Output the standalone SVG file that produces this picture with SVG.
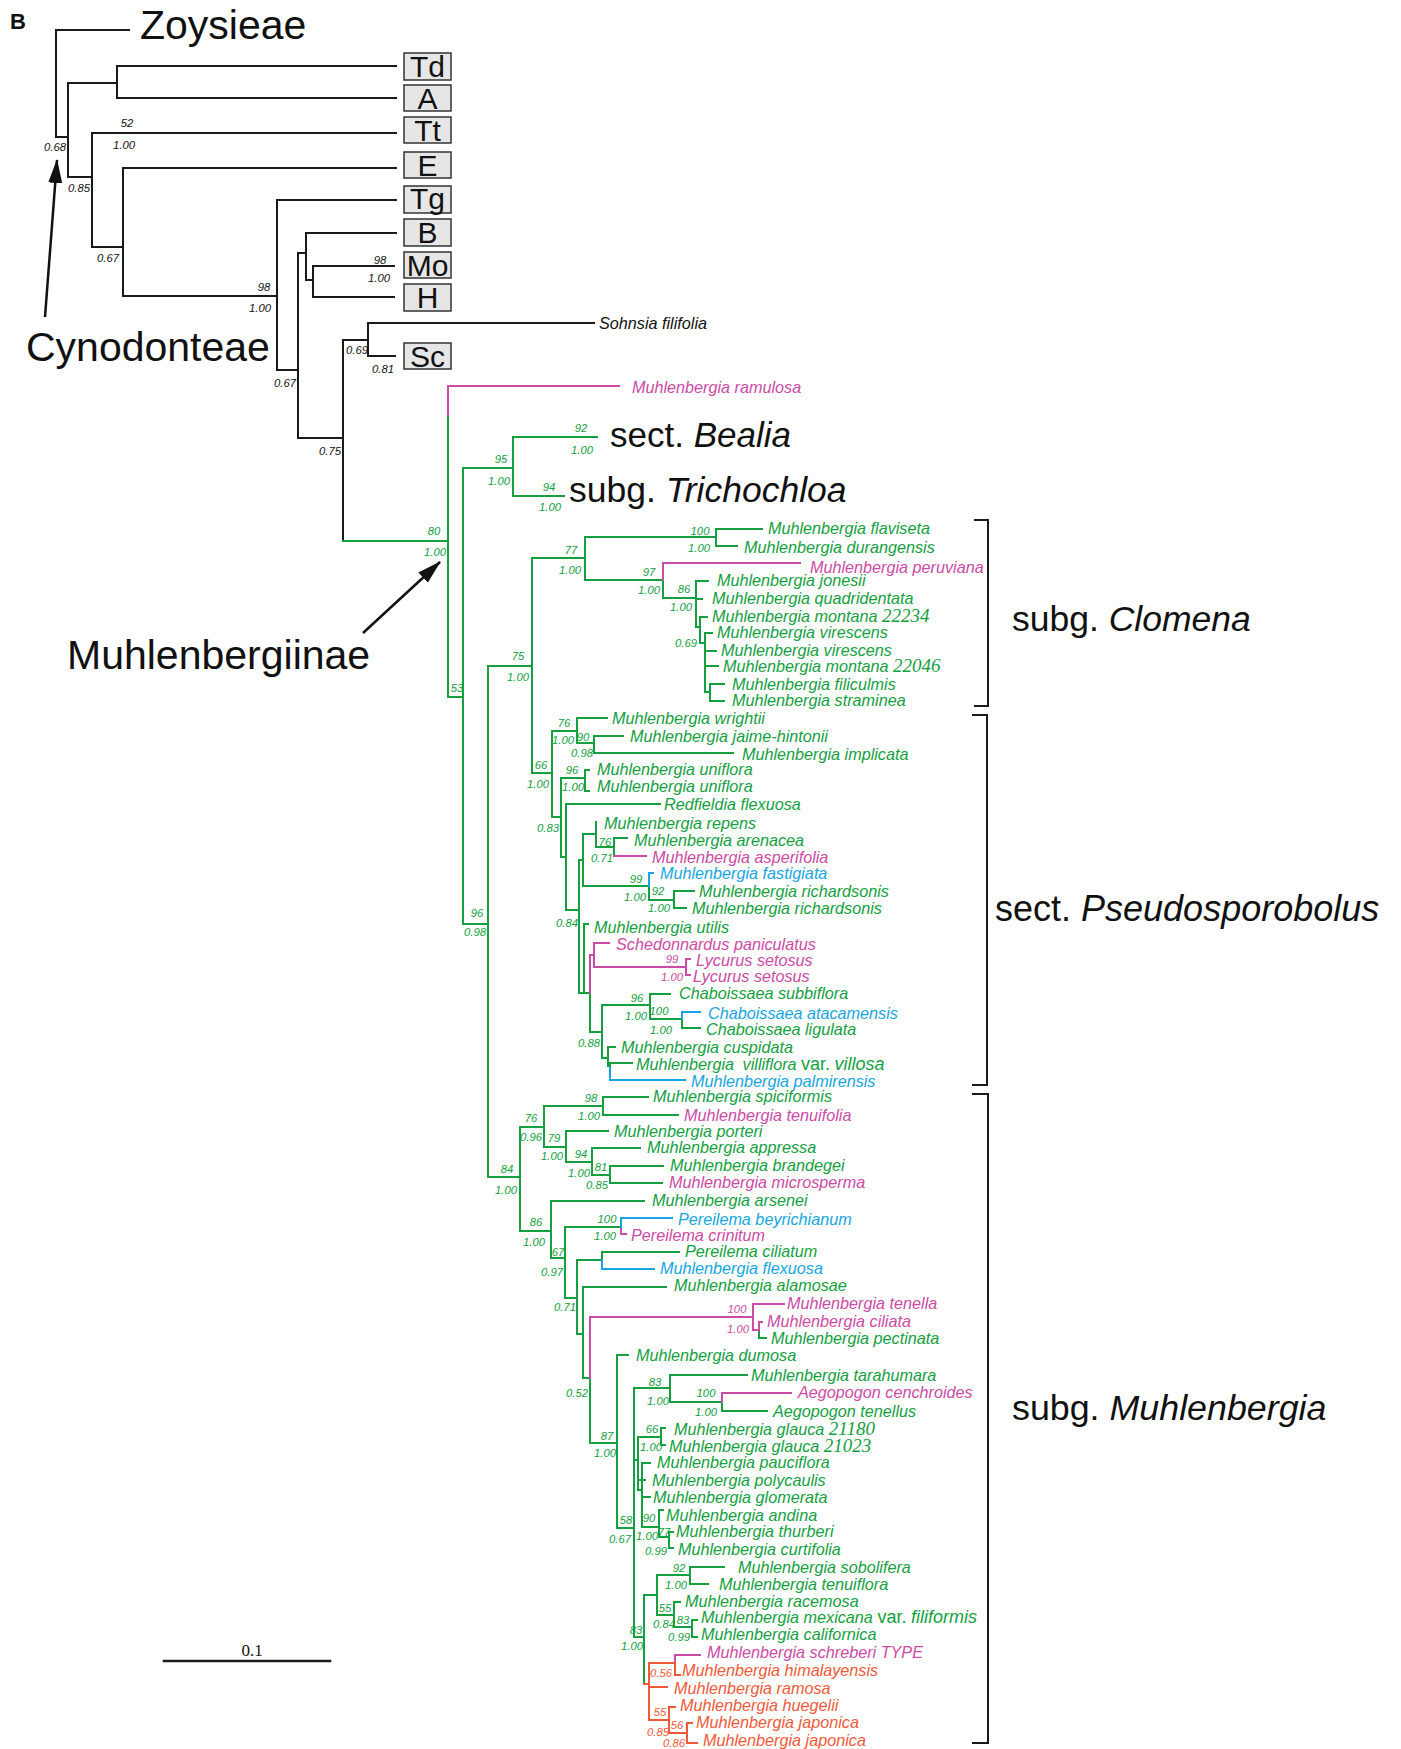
<svg xmlns="http://www.w3.org/2000/svg" width="1401" height="1749" viewBox="0 0 1401 1749">
<defs>
<style>
.sp{font-family:"Liberation Sans",Arial,sans-serif;font-style:italic;font-size:16.2px}
.n{font-family:"Liberation Sans",Arial,sans-serif;font-style:italic;font-size:11.3px;text-anchor:middle}
.big{font-family:"Liberation Sans",Arial,sans-serif;fill:#111}
.ser{font-family:"Liberation Serif","Times New Roman",serif;font-style:italic;font-size:19px}
.rg{font-style:normal}
.vr{font-size:18px}
.it{font-style:italic}
.g{fill:#14a03f}.p{fill:#cc4ba6}.b{fill:#17a6e2}.o{fill:#f05a3a}.k{fill:#111}
.ln path{fill:none;stroke-width:2;stroke-linecap:square}
.lk{stroke:#1a1a1a}.lg{stroke:#14a03f}.lp{stroke:#cc4ba6}.lb{stroke:#17a6e2}.lo{stroke:#f05a3a}
.box rect{fill:#e6e6e6;stroke:#333;stroke-width:1.5}
.box text{font-family:"Liberation Sans",Arial,sans-serif;font-size:30px;text-anchor:middle;fill:#111}
</style>
<marker id="ah" markerUnits="userSpaceOnUse" markerWidth="26" markerHeight="16" refX="23" refY="7" orient="auto"><path d="M0,0 L24,7 L0,14 z" fill="#111"/></marker>
</defs>
<rect width="1401" height="1749" fill="#fff"/>

<g id="connectors" class="ln">
<path class="lk" d="M129,30H56V137H68 M68,83V177 M68,83H117 M117,66V98 M117,66H396 M117,98H396 M68,177H92 M92,133V247 M92,133H396 M92,247H123 M123,168V296 M123,168H396 M123,296H277 M277,200V370 M277,200H396 M277,370H298 M298,253V438 M298,253H306 M306,233V280 M306,233H396 M306,280H313 M313,266V297 M313,266H394 M313,297H394 M298,438H343 M343,340V541 M343,340H368 M368,323V356 M368,323H594 M368,356H395"/>
<path class="lg" d="M343,541H448 M448,415V697 M448,697H463 M463,468V924 M463,468H513 M513,437V496 M513,437H597 M513,496H564 M463,924H488 M488,666V1177 M488,666H532 M532,558V773 M532,558H585 M585,537V580 M585,537H716 M716,529V546 M716,529H762 M716,546H737 M585,580H663 M663,580V598 M663,598H696 M696,581V627 M696,581H708 M696,599H702 M696,627H700 M700,617V643 M700,617H707 M700,643H705 M705,633V692 M705,633H712 M705,651H716 M705,666H718 M705,692H710 M710,684V701 M710,684H724 M710,701H724"/>
<path class="lg" d="M532,773H552 M552,731V817 M552,731H577 M577,718V743 M577,718H607 M577,743H594 M594,736V753 M594,736H623 M594,753H733 M552,817H561 M561,778V857 M561,778H585 M585,770V791 M585,770H589 M585,791H589 M561,857H566 M566,804V910 M566,804H660 M566,910H579 M579,860V993 M579,860H583 M583,834V886 M583,834H596 M596,822V847 M596,847H614 M614,838V856 M614,838H627 M583,886H649 M649,886V900 M649,900H674 M674,891V908 M674,891H694 M674,908H686 M579,993H590 M584,924V993 M584,924H588 M590,993V1032 M590,1032H602 M602,1005V1058 M602,1005H650 M650,994V1019 M650,994H670 M650,1019H682 M682,1019V1028 M682,1028H700 M602,1058H608 M608,1047V1066H610 M608,1047H615 M610,1063V1068 M610,1063H632"/>
<path class="lp" d="M448,386V415 M448,386H619 M663,563V580 M663,563H800 M614,856H646 M590,955V993 M590,955H594 M594,943V967 M594,943H609 M594,967H686 M686,959V975 M686,959H690 M686,975H690"/>
<path class="lb" d="M649,873V886 M649,873H653 M682,1012V1019 M682,1012H700 M610,1068V1080H685"/>
<path class="lg" d="M488,1177H520 M520,1127V1231 M520,1127H544 M544,1106V1147 M544,1106H603 M603,1097V1115 M603,1097H648 M603,1115H678 M544,1147H566 M566,1131V1162 M566,1131H608 M566,1162H592 M592,1148V1175 M592,1148H640 M592,1175H610 M610,1166V1183 M610,1166H663 M610,1183H662 M520,1231H551 M551,1201V1258 M551,1201H644 M551,1258H565 M565,1227V1298 M565,1227H621 M565,1298H577 M577,1260V1334 M577,1260H602 M602,1252V1260 M602,1252H679 M577,1334H583 M583,1287V1378 M583,1287H666 M583,1378H590 M590,1378V1443 M590,1443H617 M617,1355V1528 M617,1355H628 M617,1528H634 M634,1388H670 M670,1375V1402 M670,1375H747 M670,1402H722 M722,1402V1411 M722,1411H767 M634,1388V1637 M634,1460H638 M638,1437V1490 M638,1437H661 M661,1428V1445 M661,1428H665 M661,1445H665 M638,1480H645 M638,1490H642 M642,1463V1527 M642,1463H650 M642,1497H650 M642,1527H659 M659,1510V1537 M659,1510H663 M659,1537H669 M669,1532V1548 M669,1532H673 M669,1548H673 M634,1637H644 M644,1595V1684 M644,1595H657 M657,1575V1615 M657,1575H690 M690,1567V1584 M690,1567H724 M690,1584H708 M657,1615H674 M674,1602V1627 M674,1602H680 M674,1627H692 M692,1620V1637 M692,1620H697 M692,1637H697 M759,1330V1338 M759,1338H766"/>
<path class="lp" d="M621,1227V1234 M621,1234H626 M590,1317V1378 M590,1317H753 M753,1304V1330 M753,1304H784 M753,1330H759 M759,1322V1330 M759,1322H762 M722,1393V1402 M722,1393H791 M675,1655V1663 M675,1655H700"/>
<path class="lb" d="M621,1218V1227 M621,1218H672 M602,1260V1269H654"/>
<path class="lo" d="M644,1684H649 M649,1663V1720 M649,1663H675 M675,1663V1675H680 M649,1687H667 M649,1720H669 M669,1707V1733 M669,1707H675 M669,1733H687 M687,1723V1743 M687,1723H692 M687,1743H697"/>
<path class="lk" d="M975,520H988V706H975 M973,715H987V1085H973 M973,1094H988V1743H973"/>
<path class="lk" style="stroke-width:2.5" d="M164,1661H330"/>
<line x1="45" y1="317" x2="57" y2="160" stroke="#111" stroke-width="2.5" marker-end="url(#ah)"/>
<line x1="363" y1="633" x2="440" y2="562" stroke="#111" stroke-width="2.5" marker-end="url(#ah)"/>
</g>

<g id="titles" class="big">
<text x="10" y="29" font-size="22" font-weight="bold">B</text>
<text x="140" y="39" font-size="41">Zoysieae</text>
<text x="26" y="361" font-size="41">Cynodonteae</text>
<text x="67" y="669" font-size="41">Muhlenbergiinae</text>
<text x="610" y="447" font-size="35">sect. <tspan class="it">Bealia</tspan></text>
<text x="569" y="502" font-size="35.5">subg. <tspan class="it">Trichochloa</tspan></text>
<text x="1012" y="631" font-size="35.5">subg. <tspan class="it">Clomena</tspan></text>
<text x="995" y="921" font-size="36">sect. <tspan class="it">Pseudosporobolus</tspan></text>
<text x="1012" y="1420" font-size="35.8">subg. <tspan class="it">Muhlenbergia</tspan></text>
<text x="252" y="1656" font-size="17" text-anchor="middle" font-family="Liberation Serif,serif">0.1</text>
</g>

<g id="box-Td" class="box"><rect x="404" y="53" width="47" height="27"/><text x="427.5" y="77">Td</text></g>
<g id="box-A" class="box"><rect x="404" y="85" width="47" height="26"/><text x="427.5" y="109">A</text></g>
<g id="box-Tt" class="box"><rect x="404" y="117" width="47" height="26"/><text x="427.5" y="141">Tt</text></g>
<g id="box-E" class="box"><rect x="404" y="152" width="47" height="26"/><text x="427.5" y="176">E</text></g>
<g id="box-Tg" class="box"><rect x="404" y="186" width="47" height="27"/><text x="427.5" y="209">Tg</text></g>
<g id="box-B" class="box"><rect x="404" y="219" width="47" height="27"/><text x="427.5" y="243">B</text></g>
<g id="box-Mo" class="box"><rect x="404" y="252" width="47" height="26"/><text x="427.5" y="276">Mo</text></g>
<g id="box-H" class="box"><rect x="404" y="284" width="47" height="27"/><text x="427.5" y="308">H</text></g>
<g id="box-Sc" class="box"><rect x="404" y="343" width="47" height="26"/><text x="427.5" y="367">Sc</text></g>

<g id="leaves" class="sp">
<g id="t-sohnsia"><text class="k" x="599" y="329">Sohnsia filifolia</text></g>
<g id="t-ramulosa"><text class="p" x="632" y="393">Muhlenbergia ramulosa</text></g>
<g id="t-flaviseta"><text class="g" x="768" y="534">Muhlenbergia flaviseta</text></g>
<g id="t-durangensis"><text class="g" x="744" y="553">Muhlenbergia durangensis</text></g>
<g id="t-peruviana"><text class="p" x="810" y="573">Muhlenbergia peruviana</text></g>
<g id="t-jonesii"><text class="g" x="717" y="586">Muhlenbergia jonesii</text></g>
<g id="t-quadridentata"><text class="g" x="712" y="604">Muhlenbergia quadridentata</text></g>
<g id="t-montana1"><text class="g" x="712" y="622">Muhlenbergia montana <tspan class="ser">22234</tspan></text></g>
<g id="t-virescens1"><text class="g" x="717" y="638">Muhlenbergia virescens</text></g>
<g id="t-virescens2"><text class="g" x="721" y="656">Muhlenbergia virescens</text></g>
<g id="t-montana2"><text class="g" x="723" y="672">Muhlenbergia montana <tspan class="ser">22046</tspan></text></g>
<g id="t-filiculmis"><text class="g" x="732" y="690">Muhlenbergia filiculmis</text></g>
<g id="t-straminea"><text class="g" x="732" y="706">Muhlenbergia straminea</text></g>
<g id="t-wrightii"><text class="g" x="612" y="724">Muhlenbergia wrightii</text></g>
<g id="t-jaime"><text class="g" x="630" y="742">Muhlenbergia jaime-hintonii</text></g>
<g id="t-implicata"><text class="g" x="742" y="760">Muhlenbergia implicata</text></g>
<g id="t-uniflora1"><text class="g" x="597" y="775">Muhlenbergia uniflora</text></g>
<g id="t-uniflora2"><text class="g" x="597" y="792">Muhlenbergia uniflora</text></g>
<g id="t-redfieldia"><text class="g" x="664" y="810">Redfieldia flexuosa</text></g>
<g id="t-repens"><text class="g" x="604" y="829">Muhlenbergia repens</text></g>
<g id="t-arenacea"><text class="g" x="634" y="846">Muhlenbergia arenacea</text></g>
<g id="t-asperifolia"><text class="p" x="652" y="863">Muhlenbergia asperifolia</text></g>
<g id="t-fastigiata"><text class="b" x="660" y="879">Muhlenbergia fastigiata</text></g>
<g id="t-richardsonis1"><text class="g" x="699" y="897">Muhlenbergia richardsonis</text></g>
<g id="t-richardsonis2"><text class="g" x="692" y="914">Muhlenbergia richardsonis</text></g>
<g id="t-utilis"><text class="g" x="594" y="933">Muhlenbergia utilis</text></g>
<g id="t-schedonnardus"><text class="p" x="616" y="950">Schedonnardus paniculatus</text></g>
<g id="t-lycurus1"><text class="p" x="696" y="966">Lycurus setosus</text></g>
<g id="t-lycurus2"><text class="p" x="693" y="982">Lycurus setosus</text></g>
<g id="t-subbiflora"><text class="g" x="679" y="999">Chaboissaea subbiflora</text></g>
<g id="t-atacamensis"><text class="b" x="708" y="1019">Chaboissaea atacamensis</text></g>
<g id="t-ligulata"><text class="g" x="706" y="1035">Chaboissaea ligulata</text></g>
<g id="t-cuspidata"><text class="g" x="621" y="1053">Muhlenbergia cuspidata</text></g>
<g id="t-villiflora"><text class="g" x="636" y="1070">Muhlenbergia <tspan dx="4">villiflora</tspan> <tspan class="rg vr">var.</tspan> <tspan class="vr">villosa</tspan></text></g>
<g id="t-palmirensis"><text class="b" x="691" y="1087">Muhlenbergia palmirensis</text></g>
<g id="t-spiciformis"><text class="g" x="653" y="1102">Muhlenbergia spiciformis</text></g>
<g id="t-tenuifolia"><text class="p" x="684" y="1121">Muhlenbergia tenuifolia</text></g>
<g id="t-porteri"><text class="g" x="614" y="1137">Muhlenbergia porteri</text></g>
<g id="t-appressa"><text class="g" x="647" y="1153">Muhlenbergia appressa</text></g>
<g id="t-brandegei"><text class="g" x="670" y="1171">Muhlenbergia brandegei</text></g>
<g id="t-microsperma"><text class="p" x="669" y="1188">Muhlenbergia microsperma</text></g>
<g id="t-arsenei"><text class="g" x="652" y="1206">Muhlenbergia arsenei</text></g>
<g id="t-beyrichianum"><text class="b" x="678" y="1225">Pereilema beyrichianum</text></g>
<g id="t-crinitum"><text class="p" x="631" y="1241">Pereilema crinitum</text></g>
<g id="t-ciliatum"><text class="g" x="685" y="1257">Pereilema ciliatum</text></g>
<g id="t-flexuosa"><text class="b" x="660" y="1274">Muhlenbergia flexuosa</text></g>
<g id="t-alamosae"><text class="g" x="674" y="1291">Muhlenbergia alamosae</text></g>
<g id="t-tenella"><text class="p" x="787" y="1309">Muhlenbergia tenella</text></g>
<g id="t-ciliata"><text class="p" x="767" y="1327">Muhlenbergia ciliata</text></g>
<g id="t-pectinata"><text class="g" x="771" y="1344">Muhlenbergia pectinata</text></g>
<g id="t-dumosa"><text class="g" x="636" y="1361">Muhlenbergia dumosa</text></g>
<g id="t-tarahumara"><text class="g" x="751" y="1381">Muhlenbergia tarahumara</text></g>
<g id="t-cenchroides"><text class="p" x="798" y="1398">Aegopogon cenchroides</text></g>
<g id="t-tenellus"><text class="g" x="773" y="1417">Aegopogon tenellus</text></g>
<g id="t-glauca1"><text class="g" x="674" y="1435">Muhlenbergia glauca <tspan class="ser">21180</tspan></text></g>
<g id="t-glauca2"><text class="g" x="669" y="1452">Muhlenbergia glauca <tspan class="ser">21023</tspan></text></g>
<g id="t-pauciflora"><text class="g" x="657" y="1468">Muhlenbergia pauciflora</text></g>
<g id="t-polycaulis"><text class="g" x="652" y="1486">Muhlenbergia polycaulis</text></g>
<g id="t-glomerata"><text class="g" x="653" y="1503">Muhlenbergia glomerata</text></g>
<g id="t-andina"><text class="g" x="666" y="1521">Muhlenbergia andina</text></g>
<g id="t-thurberi"><text class="g" x="676" y="1537">Muhlenbergia thurberi</text></g>
<g id="t-curtifolia"><text class="g" x="678" y="1555">Muhlenbergia curtifolia</text></g>
<g id="t-sobolifera"><text class="g" x="738" y="1573">Muhlenbergia sobolifera</text></g>
<g id="t-tenuiflora"><text class="g" x="719" y="1590">Muhlenbergia tenuiflora</text></g>
<g id="t-racemosa"><text class="g" x="685" y="1607">Muhlenbergia racemosa</text></g>
<g id="t-mexicana"><text class="g" x="701" y="1623">Muhlenbergia mexicana <tspan class="rg vr">var.</tspan> <tspan class="vr">filiformis</tspan></text></g>
<g id="t-californica"><text class="g" x="701" y="1640">Muhlenbergia californica</text></g>
<g id="t-schreberi"><text class="p" x="707" y="1658">Muhlenbergia schreberi TYPE</text></g>
<g id="t-himalayensis"><text class="o" x="682" y="1676">Muhlenbergia himalayensis</text></g>
<g id="t-ramosa"><text class="o" x="674" y="1694">Muhlenbergia ramosa</text></g>
<g id="t-huegelii"><text class="o" x="680" y="1711">Muhlenbergia huegelii</text></g>
<g id="t-japonica1"><text class="o" x="696" y="1728">Muhlenbergia japonica</text></g>
<g id="t-japonica2"><text class="o" x="703" y="1746">Muhlenbergia japonica</text></g>
</g>

<g id="support" class="n">
<text class="k" x="55" y="151">0.68</text>
<text class="k" x="127" y="127">52</text><text class="k" x="124" y="149">1.00</text>
<text class="k" x="79" y="192">0.85</text>
<text class="k" x="108" y="262">0.67</text>
<text class="k" x="264" y="291">98</text><text class="k" x="260" y="312">1.00</text>
<text class="k" x="380" y="264">98</text><text class="k" x="379" y="282">1.00</text>
<text class="k" x="285" y="387">0.67</text>
<text class="k" x="357" y="354">0.69</text>
<text class="k" x="383" y="373">0.81</text>
<text class="k" x="330" y="455">0.75</text>
<text class="g" x="434" y="535">80</text><text class="g" x="435" y="556">1.00</text>
<text class="g" x="457" y="692">53</text>
<text class="g" x="501" y="463">95</text><text class="g" x="499" y="485">1.00</text>
<text class="g" x="581" y="432">92</text><text class="g" x="582" y="454">1.00</text>
<text class="g" x="549" y="491">94</text><text class="g" x="550" y="511">1.00</text>
<text class="g" x="518" y="660">75</text><text class="g" x="518" y="681">1.00</text>
<text class="g" x="571" y="554">77</text><text class="g" x="570" y="574">1.00</text>
<text class="g" x="700" y="535">100</text><text class="g" x="699" y="552">1.00</text>
<text class="g" x="649" y="576">97</text><text class="g" x="649" y="594">1.00</text>
<text class="g" x="684" y="593">86</text><text class="g" x="681" y="611">1.00</text>
<text class="g" x="686" y="647">0.69</text>
<text class="g" x="477" y="917">96</text><text class="g" x="475" y="936">0.98</text>
<text class="g" x="541" y="769">66</text><text class="g" x="538" y="788">1.00</text>
<text class="g" x="564" y="727">76</text><text class="g" x="563" y="744">1.00</text>
<text class="g" x="583" y="741">90</text><text class="g" x="582" y="757">0.98</text>
<text class="g" x="572" y="774">96</text><text class="g" x="573" y="791">1.00</text>
<text class="g" x="548" y="832">0.83</text>
<text class="g" x="567" y="927">0.84</text>
<text class="g" x="605" y="846">76</text><text class="g" x="602" y="862">0.71</text>
<text class="g" x="636" y="883">99</text><text class="g" x="635" y="901">1.00</text>
<text class="g" x="658" y="895">92</text><text class="g" x="659" y="912">1.00</text>
<text class="p" x="672" y="963">99</text><text class="p" x="672" y="981">1.00</text>
<text class="g" x="589" y="1047">0.88</text>
<text class="g" x="637" y="1002">96</text><text class="g" x="636" y="1020">1.00</text>
<text class="g" x="659" y="1015">100</text><text class="g" x="661" y="1034">1.00</text>
<text class="g" x="507" y="1173">84</text><text class="g" x="506" y="1194">1.00</text>
<text class="g" x="531" y="1122">76</text><text class="g" x="531" y="1141">0.96</text>
<text class="g" x="591" y="1102">98</text><text class="g" x="589" y="1120">1.00</text>
<text class="g" x="554" y="1142">79</text><text class="g" x="552" y="1160">1.00</text>
<text class="g" x="581" y="1158">94</text><text class="g" x="579" y="1177">1.00</text>
<text class="g" x="601" y="1171">81</text><text class="g" x="597" y="1189">0.85</text>
<text class="g" x="536" y="1226">86</text><text class="g" x="534" y="1246">1.00</text>
<text class="g" x="558" y="1256">67</text><text class="g" x="552" y="1276">0.97</text>
<text class="g" x="607" y="1223">100</text><text class="g" x="605" y="1240">1.00</text>
<text class="g" x="565" y="1311">0.71</text>
<text class="p" x="737" y="1313">100</text><text class="p" x="738" y="1333">1.00</text>
<text class="g" x="577" y="1397">0.52</text>
<text class="g" x="607" y="1440">87</text><text class="g" x="605" y="1457">1.00</text>
<text class="g" x="655" y="1386">83</text><text class="g" x="658" y="1405">1.00</text>
<text class="g" x="706" y="1397">100</text><text class="g" x="706" y="1416">1.00</text>
<text class="g" x="652" y="1433">66</text><text class="g" x="651" y="1451">1.00</text>
<text class="g" x="649" y="1522">90</text><text class="g" x="647" y="1540">1.00</text>
<text class="g" x="664" y="1536">77</text><text class="g" x="656" y="1555">0.99</text>
<text class="g" x="626" y="1524">58</text><text class="g" x="620" y="1543">0.67</text>
<text class="g" x="679" y="1572">92</text><text class="g" x="676" y="1589">1.00</text>
<text class="g" x="665" y="1612">55</text><text class="g" x="664" y="1628">0.84</text>
<text class="g" x="683" y="1624">83</text><text class="g" x="679" y="1641">0.99</text>
<text class="g" x="636" y="1634">83</text><text class="g" x="632" y="1650">1.00</text>
<text class="o" x="661" y="1677">0.56</text>
<text class="o" x="660" y="1716">55</text><text class="o" x="658" y="1736">0.85</text>
<text class="o" x="677" y="1729">56</text><text class="o" x="674" y="1747">0.86</text>
</g>
</svg>
